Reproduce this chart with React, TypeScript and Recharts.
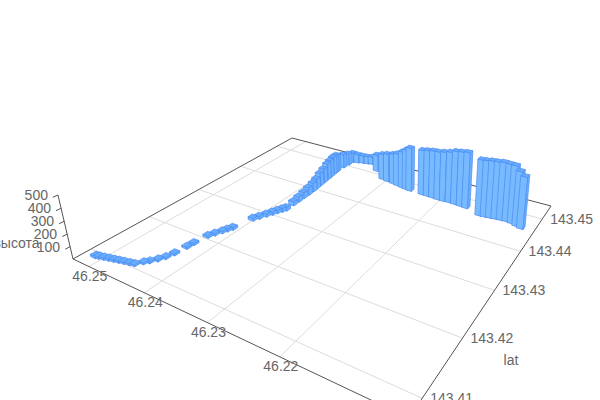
import { ScatterChart, Scatter, XAxis, YAxis, ReferenceLine, ReferenceDot } from "recharts";

const lonTicks = [46.25, 46.24, 46.23, 46.22];
const latTicks = [143.45, 143.44, 143.43, 143.42, 143.41];
const heightTicks = [100, 200, 300, 400, 500];

const lons = [
  46.25118, 46.25071, 46.24999, 46.24927, 46.24855, 46.24783, 46.24711, 46.2463, 46.24558, 46.24496,
  46.24448, 46.2439, 46.24345, 46.24314, 46.2429, 46.24278, 46.24243, 46.24204, 46.2416, 46.24132,
  46.24097, 46.2402, 46.23978, 46.2393, 46.23892, 46.23859, 46.23825, 46.23796, 46.23801, 46.23801,
  46.23801, 46.23801, 46.23806, 46.23816, 46.23825, 46.23835, 46.23844, 46.23854, 46.23863, 46.23868,
  46.23873, 46.23863, 46.23849, 46.23835,
  46.23753, 46.23667, 46.23586, 46.23519, 46.23313, 46.23087, 46.22987, 46.22867, 46.22781, 46.22685,
  46.22608, 46.22537, 46.22321, 46.2223, 46.22139, 46.22048, 46.21957, 46.21866, 46.21775, 46.21679,
  46.21588, 46.21339, 46.21262, 46.21186, 46.21109, 46.21033, 46.20951, 46.2087, 46.20788, 46.20712,
];
const lats = [
  143.40924, 143.40938, 143.40957, 143.40976, 143.40995, 143.41014, 143.41033, 143.41052, 143.41071, 143.41161,
  143.41218, 143.41303, 143.41393, 143.41516, 143.41715, 143.41832, 143.42064, 143.42161, 143.42261, 143.42332,
  143.42407, 143.42751, 143.42839, 143.42943, 143.43033, 143.43109, 143.4318, 143.43242, 143.43427, 143.43559,
  143.43692, 143.4382, 143.43953, 143.44066, 143.4418, 143.44303, 143.44427, 143.44526, 143.44631, 143.44697,
  143.44763, 143.44939, 143.45081, 143.45209,
  143.45237, 143.4527, 143.45294, 143.45318, 143.45128, 143.44915, 143.44891, 143.44868, 143.44844, 143.4482,
  143.44806, 143.44792, 143.44782, 143.44777, 143.44773, 143.44763, 143.44763, 143.44773, 143.44765, 143.44755,
  143.44745, 143.4464, 143.44649, 143.44659, 143.44673, 143.44683, 143.44692, 143.44678, 143.4464, 143.44607,
];
const heights = [
  18, 16, 15, 15, 14, 14, 13, 13, 12, 12,
  12, 13, 14, 15, 16, 16, 18, 18, 19, 20,
  21, 24, 25, 26, 27, 28, 30, 30, 36, 46,
  56, 68, 80, 92, 115, 130, 150, 158, 165, 165,
  160, 130, 110, 94,
  84, 75, 72, 72, 160, 240, 260, 280, 300, 335,
  365, 395, 405, 415, 425, 430, 440, 450, 470, 480,
  490, 483, 485, 490, 490, 495, 490, 492, 465, 440,
];

// axis box limits
const LON_MIN = 46.2052;
const LON_SPAN = 0.0479;
const LAT_MIN = 143.4072;
const LAT_SPAN = 0.0474;
const BAR_HALF = 0.01;
const UP = -0.0001246;

// camera: floor homography plus the vanishing point of the vertical axis
function project(s: number, t: number, z: number) {
  const w = 0.3966 * s + 0.6326 * t + 1;
  const px = -307.05 * s + 490.6 * t + 409;
  const py = -56.3 * s - 81.7 * t + 418;
  const k = z * UP;
  return { x: (px + k * 395) / (w + k), y: (py + k * 1630) / (w + k) };
}
const toS = (lon: number) => (lon - LON_MIN) / LON_SPAN;
const toT = (lat: number) => (lat - LAT_MIN) / LAT_SPAN;

const bars = lons
  .map((lon, i) => {
    const s = toS(lon);
    const t = toT(lats[i]);
    return { s, t, z: heights[i], ...project(s, t, 0), depth: 0.3966 * s + 0.6326 * t };
  })
  .sort((a, b) => b.depth - a.depth);

const zAt = (z: number) => project(1, 0, z);
const lonLabels = lonTicks.map((v) => ({ ...project(toS(v), 0, 0), text: v.toFixed(2) }));
const latLabels = latTicks.map((v) => ({ ...project(0, toT(v), 0), text: v.toFixed(2) }));
const zLabels = heightTicks.map((v) => ({ ...zAt(v), text: String(v) }));

const TEXT = "#666";
const FONT = "'Liberation Sans', Arial, sans-serif";

function Bar3D(props: any) {
  const { cx, cy, payload } = props;
  const { s, t, z } = payload;
  const pt = (a: number, b: number, h: number) => {
    const p = project(a, b, h);
    return `${cx + p.x - payload.x},${cy + p.y - payload.y}`;
  };
  const s0 = s - BAR_HALF;
  const s1 = s + BAR_HALF;
  const t0 = t - BAR_HALF;
  const t1 = t + BAR_HALF;
  const edge = { stroke: "#4a8cf0", strokeWidth: 0.7, strokeLinejoin: "round" as const };
  return (
    <g>
      <polygon points={[pt(s0, t0, 0), pt(s1, t0, 0), pt(s1, t0, z), pt(s0, t0, z)].join(" ")} fill="#78baff" {...edge} />
      <polygon points={[pt(s0, t0, 0), pt(s0, t1, 0), pt(s0, t1, z), pt(s0, t0, z)].join(" ")} fill="#6cb0ff" {...edge} />
      <polygon points={[pt(s0, t0, z), pt(s1, t0, z), pt(s1, t1, z), pt(s0, t1, z)].join(" ")} fill="#68acff" {...edge} />
    </g>
  );
}

const tickText = (anchor: "start" | "middle" | "end", dx: number, dy: number) => (props: any) => (
  <text
    x={props.cx + dx}
    y={props.cy + dy}
    textAnchor={anchor}
    dominantBaseline="central"
    fontSize={14}
    fontFamily={FONT}
    fill={TEXT}
  >
    {props.payload.text}
  </text>
);

function seg(a: { x: number; y: number }, b: { x: number; y: number }, color: string, key: string) {
  return (
    <ReferenceLine
      key={key}
      segment={[a, b]}
      stroke={color}
      strokeWidth={1}
      ifOverflow="visible"
    />
  );
}

export default function App() {
  return (
    <div style={{ position: "absolute", left: 0, top: 0, width: 600, height: 400 }}>
      <ScatterChart width={600} height={400} margin={{ top: 0, right: 0, bottom: 0, left: 0 }}>
        <XAxis type="number" dataKey="x" domain={[0, 600]} hide allowDataOverflow />
        <YAxis type="number" dataKey="y" domain={[0, 400]} reversed hide allowDataOverflow />

        {lonTicks.map((v) => seg(project(toS(v), 0, 0), project(toS(v), 1, 0), "#dcdcdc", `lon${v}`))}
        {latTicks.map((v) => seg(project(0, toT(v), 0), project(1, toT(v), 0), "#dcdcdc", `lat${v}`))}

        {seg(project(1, 0, 0), project(0, 0, 0), "#555", "front")}
        {seg(project(0, 0, 0), project(0, 1, 0), "#555", "right")}
        {seg(project(0, 1, 0), project(1, 1, 0), "#555", "back")}
        {seg(project(1, 1, 0), project(1, 0, 0), "#555", "left")}
        {seg(zAt(0), zAt(500), "#555", "zaxis")}
        {heightTicks.map((v) => seg(zAt(v), project(1, -0.015, v), "#555", `z${v}`))}

        <Scatter data={bars} shape={Bar3D} isAnimationActive={false} />
        <Scatter data={lonLabels} shape={tickText("middle", 1, 9.5)} isAnimationActive={false} />
        <Scatter data={latLabels} shape={tickText("start", 8, 0)} isAnimationActive={false} />
        <Scatter data={zLabels} shape={tickText("end", -10, 0)} isAnimationActive={false} />

        <ReferenceDot
          x={16.5}
          y={243}
          r={0}
          ifOverflow="visible"
          label={{ value: "высота", position: "center", fontSize: 14, fontFamily: FONT, fill: TEXT }}
        />
        <ReferenceDot
          x={511}
          y={360}
          r={0}
          ifOverflow="visible"
          label={{ value: "lat", position: "center", fontSize: 14, fontFamily: FONT, fill: TEXT }}
        />
      </ScatterChart>
    </div>
  );
}
